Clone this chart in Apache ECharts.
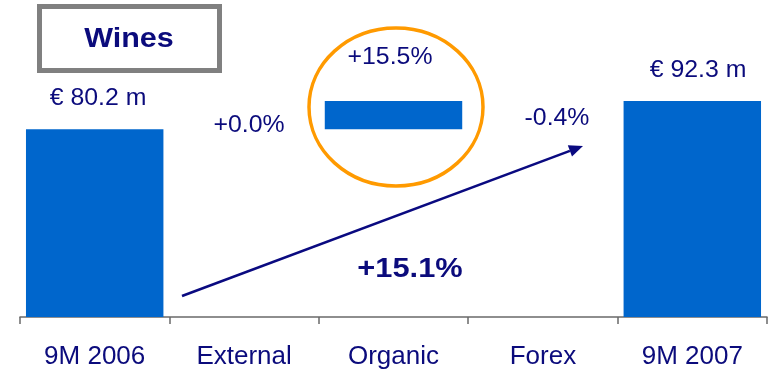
<!DOCTYPE html>
<html>
<head>
<meta charset="utf-8">
<script src="https://cdn.jsdelivr.net/npm/echarts@6/dist/echarts.min.js"></script>
<style>
html,body{margin:0;padding:0;background:#fff;}
#chart{width:768px;height:372px;}
</style>
</head>
<body>
<div id="chart"></div>
<script>
// ---- data ----
const categories = ['9M 2006', 'External', 'Organic', 'Forex', '9M 2007'];
const totals = [80.2, null, null, null, 92.3];          // € m
const floatBase = [null, null, 80.2, null, null];        // invisible base of bridge bars
const floatDelta = [null, null, 12.1, null, null];       // visible bridge step
const stepLabels = ['€ 80.2 m', '+0.0%', '+15.5%', '-0.4%', '€ 92.3 m'];
const totalGrowth = '+15.1%';
const panelTitle = 'Wines';

const NAVY = '#0B0B7C';
const BLUE = '#0066CC';
const FONT = '"Liberation Sans", Arial, sans-serif';

const chart = echarts.init(document.getElementById('chart'));

chart.setOption({
  animation: false,
  grid: { left: 20, right: 1, top: 83, bottom: 55 },
  xAxis: {
    type: 'category',
    data: categories,
    boundaryGap: true,
    axisLine: { show: true, lineStyle: { color: '#6a6a6a', width: 1.5 } },
    axisTick: { show: true, alignWithLabel: false, interval: 0, length: 7, lineStyle: { color: '#6a6a6a', width: 1.5 } },
    axisLabel: { color: NAVY, fontSize: 26, fontFamily: FONT, margin: 27 }
  },
  yAxis: { type: 'value', min: 0, max: 100, show: false, splitLine: { show: false } },
  series: [
    { type: 'bar', stack: 'w', data: totals, barCategoryGap: '8%',
      itemStyle: { color: BLUE }, silent: true },
    { type: 'bar', stack: 'w', data: floatBase,
      itemStyle: { color: 'transparent' }, silent: true },
    { type: 'bar', stack: 'w', data: floatDelta,
      itemStyle: { color: BLUE }, silent: true }
  ]
});

// annotation text positions (pixel centres) - style only
const labelPos = [[98, 99], [249, 126], [390, 58], [557, 119], [698, 71]];

function txt(str, x, y, size, bold, sx) {
  return {
    type: 'text', x: x, y: y, scaleX: sx || 1.1, z: 10,
    style: {
      text: str, x: 0, y: 0, fill: NAVY,
      font: (bold ? 'bold ' : '') + size + 'px ' + FONT,
      align: 'center', verticalAlign: 'middle'
    }
  };
}

const g = [];
// title box
g.push({ type: 'rect', shape: { x: 39.5, y: 6.5, width: 180, height: 64 },
  style: { fill: '#fff', stroke: '#808080', lineWidth: 5 } });
g.push(txt(panelTitle, 129, 40, 27, true, 1.13));
// step labels
stepLabels.forEach((s, i) => g.push(txt(s, labelPos[i][0], labelPos[i][1], 23, false, 1.08)));
// highlight circle around organic
g.push({ type: 'ellipse', shape: { cx: 396, cy: 107, rx: 87, ry: 79 },
  style: { fill: 'none', stroke: '#FF9A00', lineWidth: 3.5 } });
// growth arrow
const x1 = 182, y1 = 296, x2 = 583, y2 = 146;
const ang = Math.atan2(y2 - y1, x2 - x1);
const hl = 14, hw = 6;
const bx = x2 - hl * Math.cos(ang), by = y2 - hl * Math.sin(ang);
g.push({ type: 'line', shape: { x1: x1, y1: y1, x2: bx, y2: by },
  style: { stroke: '#0A0A80', lineWidth: 2.5 } });
g.push({ type: 'polygon', shape: { points: [
  [x2, y2],
  [bx + hw * Math.sin(ang), by - hw * Math.cos(ang)],
  [bx - hw * Math.sin(ang), by + hw * Math.cos(ang)]
] }, style: { fill: '#0A0A80' } });
g.push(txt(totalGrowth, 410, 269, 28, true, 1.1));

chart.setOption({ graphic: { elements: g } });
</script>
</body>
</html>
